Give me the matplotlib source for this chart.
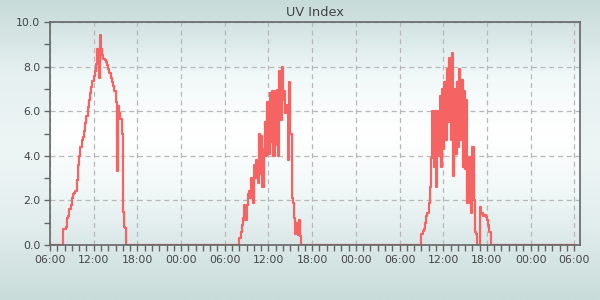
import numpy as np
import pandas as pd
import matplotlib
matplotlib.use("Agg")
import matplotlib.pyplot as plt
import matplotlib.dates as mdates
from matplotlib.colors import LinearSegmentedColormap

# UV index, 10 minute samples, one list per day (zero outside)
day1_start = "2024-06-10 07:50"
day1_uv = [0.7, 0.7, 0.8, 1.2, 1.3, 1.6, 1.8, 2.1, 2.3, 2.35, 2.4, 2.9, 3.6,
           4.0, 4.4, 4.7, 4.85, 5.1, 5.45, 5.8, 6.2, 6.5, 6.8, 7.1, 7.35, 7.6,
           7.8, 8.1, 8.8, 7.5, 9.4, 8.8, 8.5, 8.35, 8.3, 8.2, 8.05, 7.9, 7.7,
           7.5, 7.3, 7.15, 6.9, 6.4, 3.3, 6.25, 5.9, 5.65, 5.0, 1.5, 0.8, 0.75]

day2_start = "2024-06-11 08:00"
day2_uv = [0.3, 0.6, 0.9, 1.2, 1.8, 1.1, 1.8, 2.3, 2.4, 2.1, 3.0, 1.9, 3.6,
           3.0, 3.8, 2.8, 5.0, 3.2, 4.9, 2.6, 4.3, 5.5, 4.0, 6.4, 4.1, 6.8,
           4.6, 6.9, 4.0, 6.9, 4.5, 6.95, 4.0, 7.8, 5.6, 8.0, 6.5, 6.9, 5.9,
           6.3, 3.8, 7.3, 5.0, 2.1, 1.9, 1.2, 0.5, 1.0, 0.45, 1.1, 0.4]

day3_start = "2024-06-12 09:00"
day3_uv = [0.5, 0.65, 0.7, 1.0, 1.3, 1.45, 1.9, 2.6, 3.9, 6.0, 3.5, 6.0, 2.6,
           6.0, 4.0, 6.7, 3.5, 7.0, 4.3, 7.3, 4.7, 7.9, 5.5, 8.4, 4.7, 8.6,
           3.1, 7.0, 4.1, 7.3, 4.4, 7.9, 4.7, 7.4, 3.5, 6.9, 3.4, 6.5, 1.9,
           3.96, 2.8, 1.45, 4.4, 2.0, 0.6, 0.5, 0.0, 0.0, 1.7, 1.4, 1.45, 1.3,
           1.35, 1.25, 1.1, 0.9, 0.6]

t_start = "2024-06-10 06:00"
t_end = "2024-06-13 06:00"
x_end = "2024-06-13 06:47"

idx = pd.date_range(t_start, t_end, freq="10min")
uv = pd.Series(0.0, index=idx)
for start, vals in [(day1_start, day1_uv), (day2_start, day2_uv), (day3_start, day3_uv)]:
    rng = pd.date_range(start, periods=len(vals), freq="10min")
    uv[rng] = vals

fig = plt.figure(figsize=(6, 3), dpi=100)

# background gradients
bg = fig.add_axes([0, 0, 1, 1], zorder=-10)
bg_cmap = LinearSegmentedColormap.from_list(
    "bg", ["#c7dbd9", "#e6f0f0", "#eef5f5", "#e2eded", "#c8dcda"])
bg.imshow(np.linspace(0, 1, 256).reshape(-1, 1), cmap=bg_cmap, aspect="auto",
          extent=[0, 1, 0, 1])
bg.axis("off")

ax = fig.add_axes([50 / 600, 55 / 300, 530 / 600, 223 / 300])
ax_cmap = LinearSegmentedColormap.from_list(
    "ax", ["#d2e2e2", "#f2f9f9", "#ffffff", "#f2f8f8", "#dbe8e8"])
ax.imshow(np.linspace(0, 1, 256).reshape(-1, 1), cmap=ax_cmap, aspect="auto",
          extent=[0, 1, 0, 1], transform=ax.transAxes, zorder=0)

ax.plot(uv.index, uv.values, drawstyle="steps-post", color="#f56363",
        lw=1.6, zorder=3)

ax.set_xlim(pd.Timestamp(t_start), pd.Timestamp(x_end))
ax.set_ylim(0, 10)
ax.set_yticks(np.arange(0, 10.1, 2))
ax.set_yticks(np.arange(0, 10.1, 1), minor=True)
ax.yaxis.set_major_formatter(matplotlib.ticker.FormatStrFormatter("%.1f"))
ax.xaxis.set_major_locator(mdates.HourLocator(byhour=[0, 6, 12, 18]))
ax.xaxis.set_minor_locator(mdates.HourLocator(interval=1))
ax.xaxis.set_major_formatter(mdates.DateFormatter("%H:%M"))

ax.grid(True, which="major", ls=(0, (4, 3)), color="#b8b8b8", lw=0.9)
ax.set_axisbelow(False)
for gl in ax.get_xgridlines() + ax.get_ygridlines():
    gl.set_zorder(1)
for s in ax.spines.values():
    s.set_color("#666666")
    s.set_linewidth(1.2)
    s.set_zorder(4)
ax.tick_params(which="both", length=4, width=1, color="#666666",
               labelsize=7.8, labelcolor="#444444")
ax.tick_params(axis="y", pad=3)
ax.tick_params(axis="x", pad=3)

ax.set_title("UV Index", fontsize=9.3, color="#444444", pad=4)

fig.savefig("out.png", dpi=100)
